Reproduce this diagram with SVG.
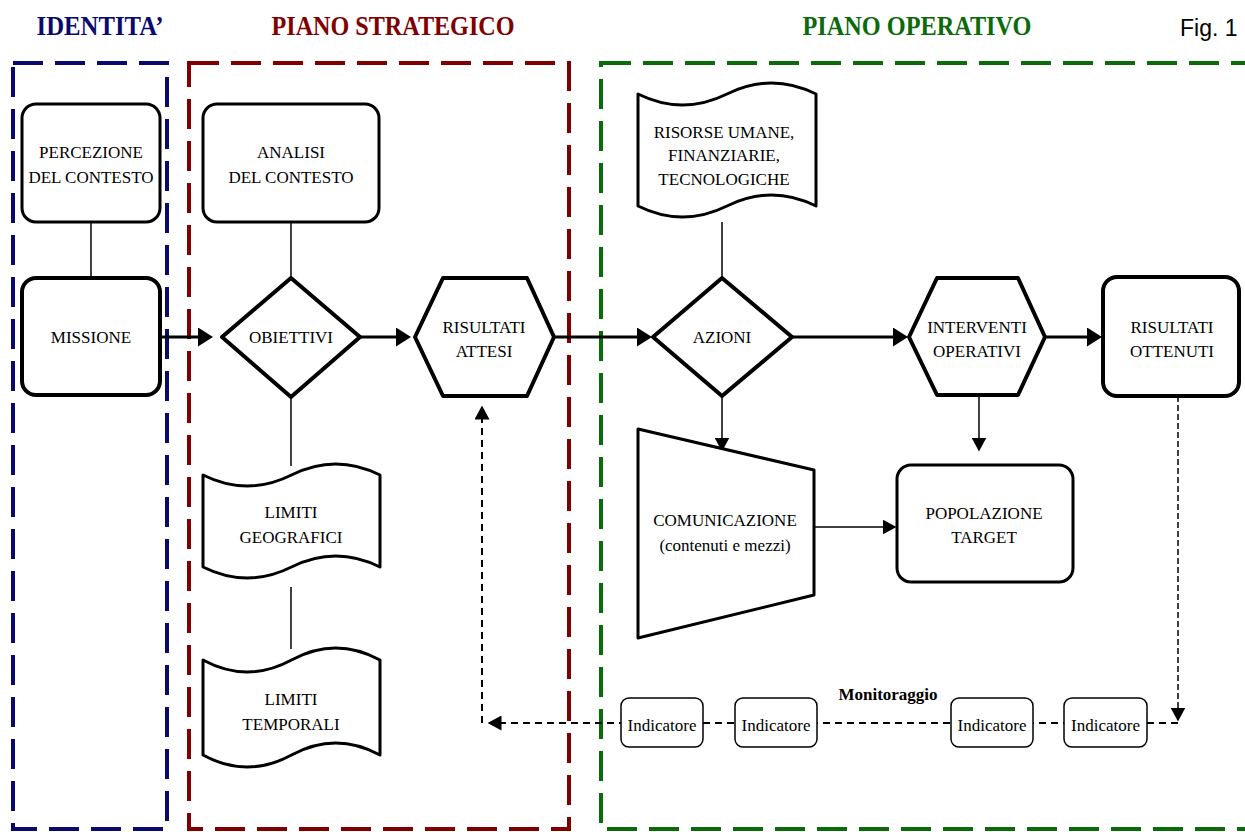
<svg xmlns="http://www.w3.org/2000/svg" width="1245" height="832" viewBox="0 0 1245 832">
<style>
.t{font-family:"Liberation Serif","Times New Roman",serif;font-size:17px;fill:#000;text-anchor:middle}
.h{font-family:"Liberation Serif","Times New Roman",serif;font-size:27px;font-weight:bold;text-anchor:middle}
.b{fill:#fff;stroke:#000;stroke-linejoin:round}
.s3{stroke-width:3}
.s4{stroke-width:4}
.c{fill:none;stroke:#000}
.zone{fill:none;stroke-width:4;stroke-dasharray:30 12}
.d1{stroke-dasharray:7 5;stroke-width:2}
.d2{stroke-dasharray:6 3;stroke-width:1.5}
</style>
<defs>
<marker id="arr" markerUnits="userSpaceOnUse" viewBox="0 0 15 19" markerWidth="15" markerHeight="19" refX="0.5" refY="9.5" orient="auto"><path d="M0,0 L15,9.5 L0,19 Z" fill="#000"/></marker>
<marker id="arrS" markerUnits="userSpaceOnUse" viewBox="0 0 14 15" markerWidth="14" markerHeight="15" refX="0.5" refY="7.5" orient="auto"><path d="M0,0 L14,7.5 L0,15 Z" fill="#000"/></marker>
</defs>
<rect width="1245" height="832" fill="#fff"/>

<g id="zones">
<path class="zone" stroke="#0a0a6e" d="M13,63 L167,63 L167,829 L13,829 Z"/>
<path class="zone" stroke="#800000" d="M189,63 L569,63 L569,829 L189,829 Z"/>
<path class="zone" stroke="#0b6b0b" d="M601,63 L1265,63 L1265,829 L601,829 Z"/>
<text class="h" x="100" y="35" fill="#0a0a6e" textLength="127" lengthAdjust="spacingAndGlyphs">IDENTITA’</text>
<text class="h" x="393" y="35" fill="#800000" textLength="243" lengthAdjust="spacingAndGlyphs">PIANO STRATEGICO</text>
<text class="h" x="917" y="35" fill="#0b6b0b" textLength="229" lengthAdjust="spacingAndGlyphs">PIANO OPERATIVO</text>
<text x="1180" y="36" font-family="Liberation Sans, Arial, sans-serif" font-size="23" fill="#000">Fig. 1</text>
</g>

<g id="connectors">
<line class="c" stroke-width="1.5" x1="91" y1="222" x2="91" y2="278"/>
<line class="c" stroke-width="1.5" x1="291" y1="222" x2="291" y2="278"/>
<line class="c" stroke-width="1.5" x1="291" y1="397" x2="291" y2="466"/>
<line class="c" stroke-width="1.5" x1="291" y1="587" x2="291" y2="649"/>
<line class="c" stroke-width="1.5" x1="722" y1="222" x2="722" y2="278"/>
<line class="c" stroke-width="3" x1="160" y1="337" x2="198.5" y2="337" marker-end="url(#arr)"/>
<line class="c" stroke-width="3" x1="360" y1="337" x2="396.5" y2="337" marker-end="url(#arr)"/>
<line class="c" stroke-width="3" x1="554" y1="337" x2="637.5" y2="337" marker-end="url(#arr)"/>
<line class="c" stroke-width="3" x1="792" y1="337" x2="893.5" y2="337" marker-end="url(#arr)"/>
<line class="c" stroke-width="3" x1="1045" y1="337" x2="1087.5" y2="337" marker-end="url(#arr)"/>
<line class="c" stroke-width="1.5" x1="722" y1="396" x2="722" y2="438" marker-end="url(#arrS)"/>
<line class="c" stroke-width="1.5" x1="979" y1="395" x2="979" y2="438" marker-end="url(#arrS)"/>
<line class="c" stroke-width="1.5" x1="814" y1="527" x2="883" y2="527" marker-end="url(#arrS)"/>
<path class="c d2" d="M1178,396 L1178,708" marker-end="url(#arrS)"/>
<path class="c d1" d="M1178,723 L501,723" marker-end="url(#arrS)"/>
<path class="c d1" d="M482,723 L482,419" marker-end="url(#arrS)"/>
</g>

<g id="percezione">
<rect class="b s3" x="22" y="104" width="138" height="118" rx="14"/>
<text class="t" x="91" y="158">PERCEZIONE</text>
<text class="t" x="91" y="183">DEL CONTESTO</text>
</g>
<g id="missione">
<rect class="b s4" x="22" y="278" width="138" height="117" rx="14"/>
<text class="t" x="91" y="343">MISSIONE</text>
</g>
<g id="analisi">
<rect class="b s3" x="203" y="104" width="176" height="118" rx="14"/>
<text class="t" x="291" y="158">ANALISI</text>
<text class="t" x="291" y="183">DEL CONTESTO</text>
</g>
<g id="obiettivi">
<polygon class="b s4" points="291,278 360,337 291,397 222,337"/>
<text class="t" x="291" y="343">OBIETTIVI</text>
</g>
<g id="risultati-attesi">
<polygon class="b s4" points="415,337 443,278 527,278 554,337 527,396 443,396"/>
<text class="t" x="484" y="333">RISULTATI</text>
<text class="t" x="484" y="357">ATTESI</text>
</g>
<g id="limiti-geografici">
<path class="b s3" d="M203,475 Q247.25,497 291.5,475 Q335.75,453 380,475 L380,567 Q335.75,545 291.5,567 Q247.25,589 203,567 Z"/>
<text class="t" x="291" y="518">LIMITI</text>
<text class="t" x="291" y="543">GEOGRAFICI</text>
</g>
<g id="limiti-temporali">
<path class="b s3" d="M203,660 Q247.25,684 291.5,660 Q335.75,636 380,660 L380,755 Q335.75,731 291.5,755 Q247.25,779 203,755 Z"/>
<text class="t" x="291" y="705">LIMITI</text>
<text class="t" x="291" y="730">TEMPORALI</text>
</g>
<g id="risorse">
<path class="b s3" d="M638,94 Q682.5,116 727,94 Q771.5,72 816,94 L816,206 Q771.5,184 727,206 Q682.5,228 638,206 Z"/>
<text class="t" x="724" y="138">RISORSE UMANE,</text>
<text class="t" x="724" y="161">FINANZIARIE,</text>
<text class="t" x="724" y="185">TECNOLOGICHE</text>
</g>
<g id="azioni">
<polygon class="b s4" points="722,278 792,337 722,396 653,337"/>
<text class="t" x="722" y="343">AZIONI</text>
</g>
<g id="interventi">
<polygon class="b s4" points="909,337 937,278 1018,278 1045,337 1018,395 937,395"/>
<text class="t" x="977" y="333">INTERVENTI</text>
<text class="t" x="977" y="357">OPERATIVI</text>
</g>
<g id="risultati-ottenuti">
<rect class="b s4" x="1103" y="277" width="136" height="119" rx="14"/>
<text class="t" x="1172" y="333">RISULTATI</text>
<text class="t" x="1172" y="357">OTTENUTI</text>
</g>
<g id="comunicazione">
<polygon class="b s3" points="638,429 814,470 814,595 638,638"/>
<text class="t" x="725" y="526">COMUNICAZIONE</text>
<text class="t" x="725" y="551">(contenuti e mezzi)</text>
</g>
<g id="popolazione">
<rect class="b s3" x="897" y="465" width="176" height="117" rx="14"/>
<text class="t" x="984" y="519">POPOLAZIONE</text>
<text class="t" x="984" y="543">TARGET</text>
</g>
<g id="monitoraggio">
<text class="t" x="888" y="700" font-weight="bold">Monitoraggio</text>
</g>
<g id="indicatore-1">
<rect class="b" stroke-width="1.5" x="621" y="698" width="82" height="49" rx="8"/>
<text class="t" x="662" y="731">Indicatore</text>
</g>
<g id="indicatore-2">
<rect class="b" stroke-width="1.5" x="735" y="698" width="82" height="49" rx="8"/>
<text class="t" x="776" y="731">Indicatore</text>
</g>
<g id="indicatore-3">
<rect class="b" stroke-width="1.5" x="951" y="698" width="82" height="49" rx="8"/>
<text class="t" x="992" y="731">Indicatore</text>
</g>
<g id="indicatore-4">
<rect class="b" stroke-width="1.5" x="1064" y="698" width="83" height="49" rx="8"/>
<text class="t" x="1105.5" y="731">Indicatore</text>
</g>
</svg>
